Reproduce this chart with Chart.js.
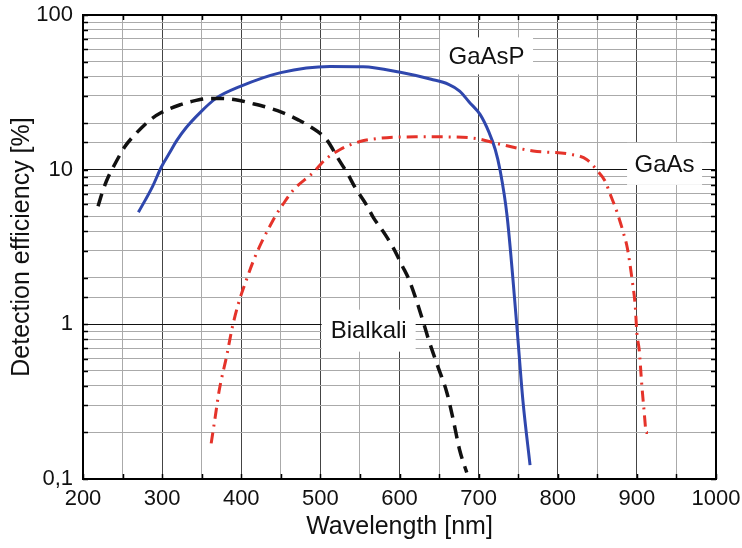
<!DOCTYPE html>
<html>
<head>
<meta charset="utf-8">
<script src="https://cdn.jsdelivr.net/npm/chart.js@4"></script>
<style>
  html, body { margin: 0; padding: 0; background: #fff; }
  #wrap { width: 742px; height: 548px; }
</style>
</head>
<body>
<div id="wrap"><canvas id="qeChart"></canvas></div>
<script>
// wavelength [nm] / efficiency [%]
const gaAsPNm  = [270, 288, 299, 310, 318, 330, 348, 368, 398, 450, 512, 554, 601, 640, 662, 676, 688, 702, 713, 721, 727, 736, 748, 756, 765];
const gaAsPEff = [5.3, 7.8, 10.4, 13.0, 15.3, 18.6, 23.4, 28.9, 34.4, 42.4, 46.5, 46.3, 42.6, 38.4, 35.6, 32.2, 27.4, 22.7, 17.5, 13.5, 10, 5.0, 1.02, 0.32, 0.123];

const bialkaliNm  = [219, 225, 232, 240, 253, 263, 285, 299, 323, 337, 362, 380, 398, 411, 436, 453, 472, 487, 508, 522, 535, 544, 558, 567, 582, 592, 604, 611, 620, 632, 636, 647, 660, 668, 676, 685];
const bialkaliEff = [5.8, 7.3, 9.0, 10.8, 14.1, 16.3, 21, 23.4, 26.3, 27.6, 28.9, 28.8, 28.0, 27.0, 25.0, 23.3, 21, 19.0, 15.6, 11.9, 9.3, 7.65, 5.94, 4.9, 3.8, 3.13, 2.36, 2.0, 1.5, 0.96, 0.82, 0.56, 0.36, 0.24, 0.154, 0.11];

const gaAsNm  = [362, 367, 372, 382, 388, 396, 407, 417, 427, 436, 444, 453, 466, 491, 506, 525, 550, 584, 626, 647, 693, 727, 769, 815, 837, 849, 860, 866, 875, 883, 888, 894, 898, 900, 903, 906, 909, 912, 914];
const gaAsEff = [0.17, 0.25, 0.37, 0.64, 0.92, 1.34, 1.97, 2.7, 3.5, 4.3, 5.1, 6.0, 7.4, 9.6, 11.6, 13.5, 15.2, 16.1, 16.3, 16.3, 16.0, 14.6, 13.2, 12.6, 11.6, 10, 8.4, 7.0, 5.3, 3.9, 3.1, 1.94, 1.3, 0.88, 0.68, 0.42, 0.28, 0.2, 0.2];

const decadeLabels = { '0.1': '0,1', '1': '1', '10': '10', '100': '100' };
const curveNames = ['GaAsP', 'GaAs', 'Bialkali'];

const FONT = "'Liberation Sans', Arial, sans-serif";
Chart.defaults.font.family = FONT;
Chart.defaults.color = '#111';

function pts(xs, ys) {
    return xs.map((x, i) => ({ x: x, y: ys[i] }));
}
function isDecade(v) {
    const l = Math.log10(v);
    return Math.abs(l - Math.round(l)) < 1e-6;
}

// text boxes sitting on the grid, under the curves
const curveLabels = {
    id: 'curveLabels',
    beforeDatasetsDraw(chart) {
        const { ctx, scales: { x, y } } = chart;
        const boxes = [
            { text: curveNames[0], nm: 710, eff: 54.4, w: 93, h: 37 },
            { text: curveNames[1], nm: 935, eff: 10.9, w: 75, h: 42 },
            { text: curveNames[2], nm: 561, eff: 0.91, w: 94, h: 42 }
        ];
        ctx.save();
        ctx.font = '24px ' + FONT;
        ctx.textAlign = 'center';
        ctx.textBaseline = 'middle';
        boxes.forEach(b => {
            const cx = x.getPixelForValue(b.nm);
            const cy = y.getPixelForValue(b.eff);
            ctx.fillStyle = '#fff';
            ctx.fillRect(cx - b.w / 2, cy - b.h / 2, b.w, b.h);
            ctx.fillStyle = '#111';
            ctx.fillText(b.text, cx, cy + 1);
        });
        ctx.restore();
    },
    afterDraw(chart) {
        const { ctx, chartArea: a, scales: { x, y } } = chart;
        ctx.save();
        ctx.strokeStyle = '#000';
        ctx.lineWidth = 1.5;
        ctx.beginPath();
        x.ticks.forEach(t => {
            const px = Math.round(x.getPixelForValue(t.value)) + 0.5;
            ctx.moveTo(px, a.bottom); ctx.lineTo(px, a.bottom - 5);
            ctx.moveTo(px, a.top); ctx.lineTo(px, a.top + 5);
        });
        y.ticks.forEach(t => {
            const py = Math.round(y.getPixelForValue(t.value)) + 0.5;
            ctx.moveTo(a.left, py); ctx.lineTo(a.left + 5, py);
            ctx.moveTo(a.right, py); ctx.lineTo(a.right - 5, py);
        });
        ctx.stroke();
        ctx.lineWidth = 2;
        ctx.strokeRect(a.left, a.top, a.right - a.left, a.bottom - a.top);
        ctx.restore();
    }
};

new Chart(document.getElementById('qeChart'), {
    type: 'line',
    data: {
        datasets: [{
            label: curveNames[2],
            data: pts(bialkaliNm, bialkaliEff),
            borderColor: '#111',
            borderWidth: 3.5,
            borderDash: [13, 8],
            pointRadius: 0,
            cubicInterpolationMode: 'monotone'
        }, {
            label: curveNames[1],
            data: pts(gaAsNm, gaAsEff),
            borderColor: '#e5332a',
            borderWidth: 3,
            borderDash: [11, 6, 2, 6],
            pointRadius: 0,
            cubicInterpolationMode: 'monotone'
        }, {
            label: curveNames[0],
            data: pts(gaAsPNm, gaAsPEff),
            borderColor: '#2f47ad',
            borderWidth: 3,
            pointRadius: 0,
            cubicInterpolationMode: 'monotone'
        }]
    },
    options: {
        responsive: true,
        maintainAspectRatio: false,
        animation: false,
        layout: { padding: { top: 15, right: 26, left: 0, bottom: 0 } },
        plugins: { legend: { display: false }, tooltip: { enabled: false } },
        scales: {
            x: {
                type: 'linear',
                min: 200,
                max: 1000,
                afterFit: s => { s.height = 69; s.paddingLeft = 0; s.paddingRight = 0; },
                border: { display: false },
                grid: {
                    drawTicks: false,
                    color: c => (c.tick.value % 100 === 0 ? '#444' : '#aaa'),
                    lineWidth: 1
                },
                ticks: {
                    stepSize: 50,
                    autoSkip: false,
                    maxRotation: 0,
                    padding: 7,
                    font: { size: 22 },
                    callback: v => (v % 100 === 0 ? String(v) : '')
                },
                title: {
                    display: true,
                    text: 'Wavelength [nm]',
                    font: { size: 25 },
                    padding: { top: 0, bottom: 6 }
                }
            },
            y: {
                type: 'logarithmic',
                min: 0.1,
                max: 100,
                afterFit: s => { s.width = 83; s.paddingTop = 0; s.paddingBottom = 0; },
                border: { display: false },
                grid: {
                    drawTicks: false,
                    color: c => (isDecade(c.tick.value) ? '#111' : '#aaa'),
                    lineWidth: 1
                },
                ticks: {
                    autoSkip: false,
                    padding: 10,
                    font: { size: 22 },
                    callback: v => {
                        if (!isDecade(v)) return '';
                        const k = String(Math.pow(10, Math.round(Math.log10(v))).toFixed(1) * 1);
                        return decadeLabels[k] || '';
                    }
                },
                title: {
                    display: true,
                    text: 'Detection efficiency [%]',
                    font: { size: 25 },
                    padding: { top: 7, bottom: 0 }
                }
            }
        }
    },
    plugins: [curveLabels]
});
</script>
</body>
</html>
